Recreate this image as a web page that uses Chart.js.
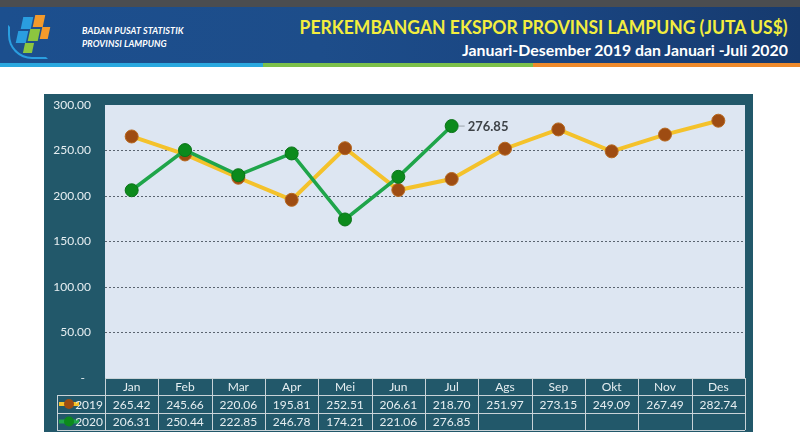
<!DOCTYPE html>
<html lang="id">
<head>
<meta charset="UTF-8">
<title>Perkembangan Ekspor Provinsi Lampung</title>
<script src="https://cdn.jsdelivr.net/npm/chart.js"></script>
<style>
    body {
        margin: 0;
        width: 800px;
        height: 444px;
        background: #ffffff;
        font-family: Lato, 'Open Sans', sans-serif;
        position: relative;
        overflow: hidden;
    }

    #topbar {
        position: absolute; left: 0; top: 0; width: 800px; height: 7px;
        background: #4b4d50;
    }

    #header {
        position: absolute; left: 0; top: 7px; width: 800px; height: 56px;
        background: linear-gradient(90deg, #1c4f8e 0%, #1d4d8a 40%, #1a4581 70%, #163a6e 100%);
        overflow: hidden;
    }

    #stripe {
        position: absolute; left: 0; top: 63px; width: 800px; height: 4px;
        background: linear-gradient(90deg, #2aa8df 0 263px, #7cc04a 263px 533px, #ee8a2c 533px 800px);
    }

    .logo div { position: absolute; }

    #org {
        position: absolute; left: 82px; top: 17px;
        color: #ffffff; font-size: 9px; font-weight: bold; font-style: italic;
        line-height: 13px; letter-spacing: 0.1px;
    }

    #title {
        position: absolute; right: 12px; top: 8px;
        color: #f3ee3e; font-size: 19px; font-weight: bold;
        white-space: nowrap; transform-origin: right center;
    }

    #subtitle {
        position: absolute; right: 12px; top: 33px;
        color: #ffffff; font-size: 16px; font-weight: bold;
        white-space: nowrap; transform-origin: right center;
    }

    #chart-box {
        position: absolute; left: 44px; top: 94px; width: 709px; height: 338px;
    }
</style>
</head>
<body>
<div id="topbar"></div>
<div id="header">
    <div class="logo">
        <div style="left:22px;top:10px;width:10px;height:12px;background:#2a9ee0;transform:skewX(-12deg)"></div>
        <div style="left:34px;top:8px;width:10px;height:12px;background:#f39a2b;transform:skewX(-12deg)"></div>
        <div style="left:17px;top:24px;width:10px;height:12px;background:#2a9ee0;transform:skewX(-12deg)"></div>
        <div style="left:29px;top:22px;width:10px;height:12px;background:#8cc63f;transform:skewX(-12deg)"></div>
        <div style="left:41px;top:20px;width:8px;height:12px;background:#f39a2b;transform:skewX(-12deg)"></div>
        <div style="left:24px;top:36px;width:9px;height:10px;background:#8cc63f;transform:skewX(-12deg)"></div>
        <div style="left:8px;top:18px;width:36px;height:30px;border:2px solid #2a9ee0;border-color:transparent transparent #2a9ee0 #2a9ee0;border-radius:0 0 0 24px"></div>
    </div>
    <div id="org">BADAN PUSAT STATISTIK<br>PROVINSI LAMPUNG</div>
    <div id="title">PERKEMBANGAN EKSPOR PROVINSI LAMPUNG (JUTA US$)</div>
    <div id="subtitle">Januari-Desember 2019 dan Januari -Juli 2020</div>
</div>
<div id="stripe"></div>

<div id="chart-box"><canvas id="exportChart"></canvas></div>

<script>
    // data (juta US$)
    const months = ['Jan', 'Feb', 'Mar', 'Apr', 'Mei', 'Jun', 'Jul', 'Ags', 'Sep', 'Okt', 'Nov', 'Des'];
    const seriesNames = ['2019', '2020'];
    const exports2019 = [265.42, 245.66, 220.06, 195.81, 252.51, 206.61, 218.70, 251.97, 273.15, 249.09, 267.49, 282.74];
    const exports2020 = [206.31, 250.44, 222.85, 246.78, 174.21, 221.06, 276.85, null, null, null, null, null];
    const yMin = 0;
    const yMax = 300;
    const yStep = 50;

    // squeeze header text to the widths seen in the original
    function fitWidth(id, target) {
        const el = document.getElementById(id);
        const w = el.getBoundingClientRect().width;
        el.style.transform = 'scaleX(' + (target / w) + ')';
    }
    fitWidth('title', 488);
    fitWidth('subtitle', 326);

    const frameColor = '#22586a';
    const plotColor = '#dde6f2';
    const textColor = '#e6eef1';
    const lineColors = { '2019': '#f4c22b', '2020': '#1fa54a' };
    const pointColors = { '2019': '#9e4c12', '2020': '#0c8a1c' };

    // plot box follows the y scale, not the chart area
    function plotBox(chart) {
        const y = chart.scales.y;
        const a = chart.chartArea;
        return { left: a.left, right: a.right, top: y.getPixelForValue(yMax), bottom: y.getPixelForValue(yMin) };
    }

    const backgroundPlugin = {
        id: 'frameBackground',
        beforeDraw(chart) {
            const { ctx } = chart;
            const b = plotBox(chart);
            ctx.save();
            ctx.fillStyle = frameColor;
            ctx.fillRect(0, 0, chart.width, chart.height);
            ctx.fillStyle = plotColor;
            ctx.fillRect(b.left, b.top, b.right - b.left, b.bottom - b.top);
            ctx.restore();
        }
    };

    // data table under the plot, columns taken from the x scale
    const tablePlugin = {
        id: 'dataTable',
        afterDraw(chart) {
            const { ctx } = chart;
            const a = plotBox(chart);
            const x = chart.scales.x;
            const colW = (a.right - a.left) / months.length;
            const rowH = [17, 18, 17];
            const top = Math.round(a.bottom);
            const rowsY = [top, top + rowH[0], top + rowH[0] + rowH[1], top + rowH[0] + rowH[1] + rowH[2]];
            const legendLeft = a.left - 48;

            ctx.save();
            ctx.strokeStyle = '#c9d3d8';
            ctx.lineWidth = 1;

            ctx.beginPath();
            ctx.moveTo(a.left, rowsY[0] + 0.5); ctx.lineTo(a.right, rowsY[0] + 0.5);
            for (let r = 1; r < 4; r++) {
                ctx.moveTo(legendLeft, rowsY[r] + 0.5); ctx.lineTo(a.right, rowsY[r] + 0.5);
            }
            for (let i = 0; i <= months.length; i++) {
                const xx = Math.round(a.left + i * colW) + 0.5;
                ctx.moveTo(xx, rowsY[0]); ctx.lineTo(xx, rowsY[3]);
            }
            ctx.moveTo(legendLeft + 0.5, rowsY[1]); ctx.lineTo(legendLeft + 0.5, rowsY[3]);
            ctx.stroke();

            ctx.fillStyle = textColor;
            ctx.font = '12px Lato, sans-serif';
            ctx.textAlign = 'center';
            ctx.textBaseline = 'middle';
            months.forEach((m, i) => {
                const cx = x.getPixelForValue(i);
                ctx.fillText(m, cx, (rowsY[0] + rowsY[1]) / 2 + 1);
                if (exports2019[i] != null) ctx.fillText(exports2019[i].toFixed(2), cx, (rowsY[1] + rowsY[2]) / 2 + 1);
                if (exports2020[i] != null) ctx.fillText(exports2020[i].toFixed(2), cx, (rowsY[2] + rowsY[3]) / 2 + 1);
            });

            // legend keys
            seriesNames.forEach((name, r) => {
                const cy = (rowsY[r + 1] + rowsY[r + 2]) / 2;
                ctx.strokeStyle = lineColors[name];
                ctx.lineWidth = 4;
                ctx.beginPath();
                ctx.moveTo(legendLeft + 2, cy); ctx.lineTo(legendLeft + 22, cy);
                ctx.stroke();
                ctx.fillStyle = pointColors[name];
                ctx.beginPath();
                ctx.arc(legendLeft + 12, cy, 5, 0, Math.PI * 2);
                ctx.fill();
                ctx.fillStyle = textColor;
                ctx.textAlign = 'right';
                ctx.fillText(name, a.left - 2, cy + 1);
            });
            ctx.restore();
        }
    };

    // value label on the latest 2020 point
    const lastLabelPlugin = {
        id: 'lastLabel',
        afterDatasetsDraw(chart) {
            const meta = chart.getDatasetMeta(0);
            let idx = -1;
            exports2020.forEach((v, i) => { if (v != null) idx = i; });
            const pt = meta.data[idx];
            const { ctx } = chart;
            ctx.save();
            ctx.strokeStyle = '#9aa3ab';
            ctx.lineWidth = 1;
            ctx.beginPath();
            ctx.moveTo(pt.x + 7, pt.y); ctx.lineTo(pt.x + 13, pt.y);
            ctx.stroke();
            ctx.fillStyle = '#3d4247';
            ctx.font = 'bold 13px Lato, sans-serif';
            ctx.textBaseline = 'middle';
            ctx.fillText(exports2020[idx].toFixed(2), pt.x + 16, pt.y + 1);
            ctx.restore();
        }
    };

    new Chart(document.getElementById('exportChart'), {
        type: 'line',
        data: {
            labels: months,
            datasets: [
                {
                    label: seriesNames[1],
                    data: exports2020,
                    borderColor: lineColors['2020'],
                    borderWidth: 3.5,
                    pointRadius: 6.5,
                    pointBackgroundColor: pointColors['2020'],
                    pointBorderColor: '#0a7418',
                    pointBorderWidth: 1,
                    tension: 0,
                    order: 0
                },
                {
                    label: seriesNames[0],
                    data: exports2019,
                    borderColor: lineColors['2019'],
                    borderWidth: 4,
                    pointRadius: 6.5,
                    pointBackgroundColor: pointColors['2019'],
                    pointBorderColor: '#b8691f',
                    pointBorderWidth: 1,
                    tension: 0,
                    order: 1
                }
            ]
        },
        options: {
            responsive: true,
            maintainAspectRatio: false,
            animation: false,
            layout: { padding: { top: 11, right: 8, bottom: 54, left: 0 } },
            plugins: {
                legend: { display: false },
                tooltip: { enabled: false }
            },
            scales: {
                x: {
                    display: false,
                    offset: true
                },
                y: {
                    min: yMin,
                    max: yMax,
                    afterFit(scale) {
                        scale.width = 61;
                        scale.paddingTop = 0;
                        scale.paddingBottom = 0;
                    },
                    ticks: {
                        stepSize: yStep,
                        color: textColor,
                        padding: 14,
                        font: { family: 'Lato', size: 12 },
                        callback: v => v === 0 ? '-  ' : v.toFixed(2)
                    },
                    grid: {
                        drawTicks: false,
                        lineWidth: 1,
                        color: ctx => (ctx.tick && ctx.tick.value > yMin && ctx.tick.value < yMax) ? '#5a6470' : 'rgba(0,0,0,0)'
                    },
                    border: { display: false, dash: [2, 2] }
                }
            }
        },
        plugins: [backgroundPlugin, tablePlugin, lastLabelPlugin]
    });
</script>
</body>
</html>
